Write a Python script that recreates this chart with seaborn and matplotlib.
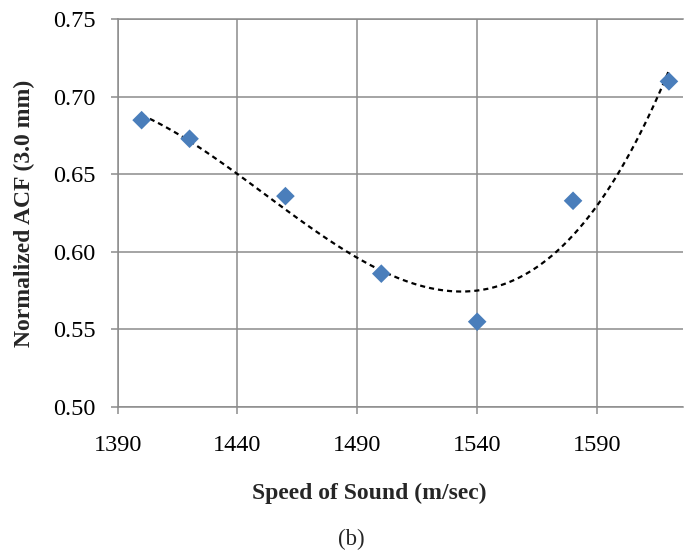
import numpy as np
import pandas as pd
import matplotlib
matplotlib.use("Agg")
import matplotlib.pyplot as plt
import seaborn as sns

# values
speed = [1400, 1420, 1460, 1500, 1540, 1580, 1620]
acf = [0.685, 0.673, 0.636, 0.586, 0.555, 0.633, 0.710]
x_ticks = [1390, 1440, 1490, 1540, 1590]
y_ticks = [0.50, 0.55, 0.60, 0.65, 0.70, 0.75]

df = pd.DataFrame({"speed": speed, "acf": acf})

sns.set_theme(style="white")
plt.rcParams["font.family"] = ["Liberation Serif", "DejaVu Serif"]

grid_col = "#8c8c8c"
fig = plt.figure(figsize=(6.84, 5.53), dpi=100)
ax = fig.add_axes([0.172, 0.264, 0.827, 0.701])

# cubic trendline (like the spreadsheet's polynomial trendline)
sns.regplot(data=df, x="speed", y="acf", order=3, ci=None, scatter=False,
            line_kws={"color": "black", "linestyle": (0, (2.3, 1.8)), "linewidth": 1.6},
            ax=ax)
sns.scatterplot(data=df, x="speed", y="acf", marker="D", s=90, color="#4a7ebb",
                edgecolor="none", ax=ax, zorder=3)

ax.set_xlim(1390, 1626)
ax.set_ylim(0.50, 0.75)
ax.set_xticks(x_ticks)
ax.set_yticks(y_ticks)
ax.set_xticklabels([str(v) for v in x_ticks])
ax.set_yticklabels([f"{v:.2f}" for v in y_ticks])
ax.grid(True, color=grid_col, linewidth=1.1)
ax.set_axisbelow(True)
for side in ["left", "bottom", "top"]:
    ax.spines[side].set_color(grid_col)
    ax.spines[side].set_linewidth(1.1)
ax.spines["right"].set_visible(False)
ax.tick_params(axis="both", direction="out", length=5, width=1.1, color=grid_col,
               labelsize=17.5, labelcolor="black", bottom=True, left=True)
ax.tick_params(axis="y", pad=11)
ax.tick_params(axis="x", pad=15)

ax.set_xlabel("Speed of Sound (m/sec)", fontsize=17, fontweight="bold")
ax.xaxis.set_label_coords(0.444, -0.222)
ax.xaxis.label.set_va("center")
ax.set_ylabel("Normalized ACF (3.0 mm)", fontsize=17, fontweight="bold")
ax.yaxis.set_label_coords(-0.164, 0.5)
ax.yaxis.label.set_va("center")
fig.text(0.513, 1 - 539 / 553, "(b)", ha="center", va="center", fontsize=16.5)

fig.savefig("out.png", dpi=100)
